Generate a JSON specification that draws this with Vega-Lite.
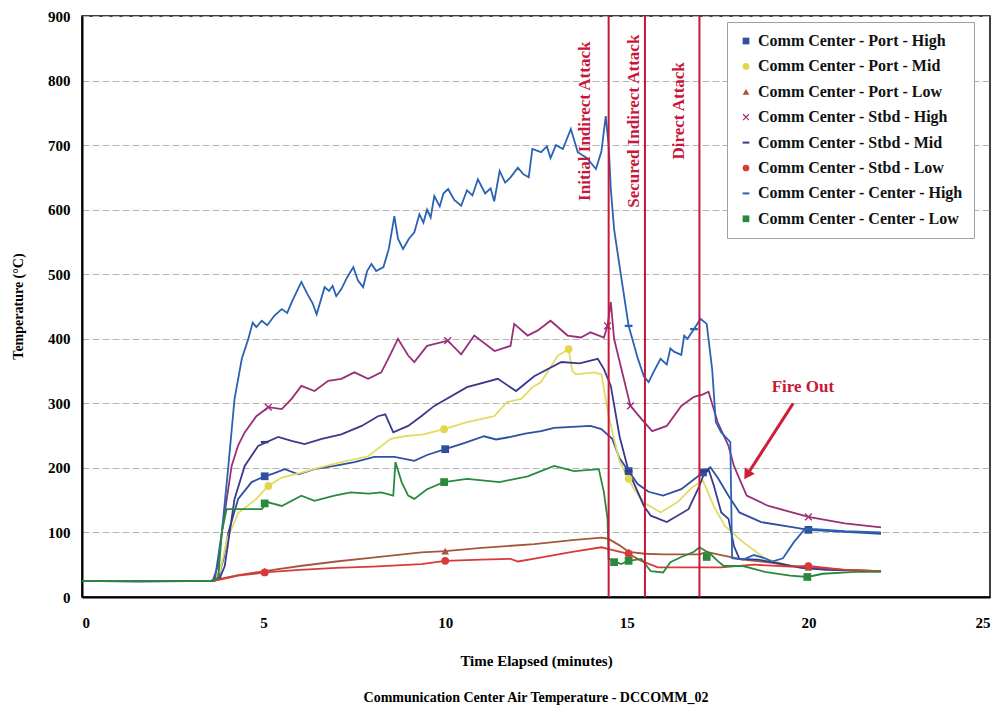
{
  "$schema": "https://vega.github.io/schema/vega-lite/v6.json",
  "width": 908,
  "height": 581,
  "autosize": {"type": "none"},
  "padding": {"left": 82, "top": 16, "right": 14, "bottom": 116},
  "background": "white",
  "config": {
    "view": {"stroke": "black", "strokeWidth": 1.5},
    "font": "Liberation Serif"
  },
  "title": {
    "text": "Communication Center Air Temperature - DCCOMM_02",
    "orient": "bottom",
    "anchor": "middle",
    "font": "Liberation Serif",
    "fontSize": 14,
    "fontWeight": "bold",
    "color": "black",
    "offset": 23
  },
  "datasets": {
    "names": [
      {"k": "PH", "name": "Comm Center - Port - High"},
      {"k": "PM", "name": "Comm Center - Port - Mid"},
      {"k": "PL", "name": "Comm Center - Port - Low"},
      {"k": "SH", "name": "Comm Center - Stbd - High"},
      {"k": "SM", "name": "Comm Center - Stbd - Mid"},
      {"k": "SL", "name": "Comm Center - Stbd - Low"},
      {"k": "CH", "name": "Comm Center - Center - High"},
      {"k": "CL", "name": "Comm Center - Center - Low"}
    ],
    "events": [{"t": 14.5}, {"t": 15.5}, {"t": 17.0}],
    "eventLabels": [
      {"t": 13.85, "v": 737, "label": "Initial Indirect Attack"},
      {"t": 15.2, "v": 737, "label": "Secured Indirect Attack"},
      {"t": 16.43, "v": 753, "label": "Direct Attack"}
    ],
    "fireOut": [{"t": 19.85, "v": 325, "label": "Fire Out"}],
    "arrow": [{"t": 19.58, "v": 300, "t2": 18.31, "v2": 189}],
    "arrowHead": [{"t": 18.31, "v": 189}],
    "temps": [
      {"k": "PH", "t": 0, "v": 25}, {"k": "PH", "t": 1.5, "v": 24}, {"k": "PH", "t": 3.6, "v": 25}, {"k": "PH", "t": 3.75, "v": 30}, {"k": "PH", "t": 3.9, "v": 60}, {"k": "PH", "t": 4.03, "v": 100}, {"k": "PH", "t": 4.3, "v": 152}, {"k": "PH", "t": 4.67, "v": 178}, {"k": "PH", "t": 5.03, "v": 187}, {"k": "PH", "t": 5.3, "v": 192}, {"k": "PH", "t": 5.58, "v": 198}, {"k": "PH", "t": 5.96, "v": 190}, {"k": "PH", "t": 6.4, "v": 198}, {"k": "PH", "t": 6.95, "v": 203}, {"k": "PH", "t": 7.5, "v": 209}, {"k": "PH", "t": 8.05, "v": 217}, {"k": "PH", "t": 8.6, "v": 217}, {"k": "PH", "t": 9.15, "v": 211}, {"k": "PH", "t": 9.5, "v": 220}, {"k": "PH", "t": 10.0, "v": 229}, {"k": "PH", "t": 10.5, "v": 238}, {"k": "PH", "t": 11.07, "v": 249}, {"k": "PH", "t": 11.4, "v": 244}, {"k": "PH", "t": 11.8, "v": 248}, {"k": "PH", "t": 12.2, "v": 253}, {"k": "PH", "t": 12.64, "v": 257}, {"k": "PH", "t": 13.0, "v": 262}, {"k": "PH", "t": 13.37, "v": 263}, {"k": "PH", "t": 14.0, "v": 265}, {"k": "PH", "t": 14.3, "v": 260}, {"k": "PH", "t": 14.6, "v": 245}, {"k": "PH", "t": 14.8, "v": 215}, {"k": "PH", "t": 15.05, "v": 195}, {"k": "PH", "t": 15.3, "v": 175}, {"k": "PH", "t": 15.6, "v": 163}, {"k": "PH", "t": 16.0, "v": 157}, {"k": "PH", "t": 16.5, "v": 167}, {"k": "PH", "t": 16.8, "v": 180}, {"k": "PH", "t": 17.1, "v": 193}, {"k": "PH", "t": 17.3, "v": 201}, {"k": "PH", "t": 17.5, "v": 185}, {"k": "PH", "t": 17.8, "v": 157}, {"k": "PH", "t": 18.1, "v": 131}, {"k": "PH", "t": 18.7, "v": 116}, {"k": "PH", "t": 19.6, "v": 108}, {"k": "PH", "t": 20.0, "v": 104}, {"k": "PH", "t": 21.0, "v": 101}, {"k": "PH", "t": 22.0, "v": 98},
      {"k": "PM", "t": 0, "v": 25}, {"k": "PM", "t": 3.6, "v": 25}, {"k": "PM", "t": 3.8, "v": 40}, {"k": "PM", "t": 4.0, "v": 90}, {"k": "PM", "t": 4.3, "v": 130}, {"k": "PM", "t": 4.8, "v": 152}, {"k": "PM", "t": 5.13, "v": 172}, {"k": "PM", "t": 5.5, "v": 185}, {"k": "PM", "t": 6.0, "v": 192}, {"k": "PM", "t": 6.5, "v": 200}, {"k": "PM", "t": 7.14, "v": 209}, {"k": "PM", "t": 7.88, "v": 218}, {"k": "PM", "t": 8.5, "v": 245}, {"k": "PM", "t": 8.87, "v": 249}, {"k": "PM", "t": 9.4, "v": 252}, {"k": "PM", "t": 9.97, "v": 260}, {"k": "PM", "t": 10.6, "v": 271}, {"k": "PM", "t": 11.35, "v": 280}, {"k": "PM", "t": 11.7, "v": 302}, {"k": "PM", "t": 12.1, "v": 307}, {"k": "PM", "t": 12.4, "v": 325}, {"k": "PM", "t": 12.64, "v": 333}, {"k": "PM", "t": 13.1, "v": 374}, {"k": "PM", "t": 13.4, "v": 384}, {"k": "PM", "t": 13.5, "v": 350}, {"k": "PM", "t": 13.6, "v": 345}, {"k": "PM", "t": 14.1, "v": 348}, {"k": "PM", "t": 14.3, "v": 345}, {"k": "PM", "t": 14.5, "v": 280}, {"k": "PM", "t": 14.8, "v": 210}, {"k": "PM", "t": 15.05, "v": 183}, {"k": "PM", "t": 15.2, "v": 167}, {"k": "PM", "t": 15.5, "v": 145}, {"k": "PM", "t": 15.93, "v": 131}, {"k": "PM", "t": 16.4, "v": 147}, {"k": "PM", "t": 16.8, "v": 170}, {"k": "PM", "t": 17.1, "v": 180}, {"k": "PM", "t": 17.4, "v": 140}, {"k": "PM", "t": 17.7, "v": 110}, {"k": "PM", "t": 18.2, "v": 85}, {"k": "PM", "t": 18.8, "v": 60}, {"k": "PM", "t": 19.5, "v": 48}, {"k": "PM", "t": 20.0, "v": 45}, {"k": "PM", "t": 21.0, "v": 42}, {"k": "PM", "t": 22.0, "v": 40},
      {"k": "PL", "t": 0, "v": 25}, {"k": "PL", "t": 3.6, "v": 25}, {"k": "PL", "t": 3.8, "v": 28}, {"k": "PL", "t": 4.3, "v": 34}, {"k": "PL", "t": 5.03, "v": 40}, {"k": "PL", "t": 6.0, "v": 48}, {"k": "PL", "t": 7.0, "v": 55}, {"k": "PL", "t": 8.0, "v": 61}, {"k": "PL", "t": 9.34, "v": 69}, {"k": "PL", "t": 10.0, "v": 71}, {"k": "PL", "t": 11.0, "v": 76}, {"k": "PL", "t": 12.45, "v": 82}, {"k": "PL", "t": 13.5, "v": 88}, {"k": "PL", "t": 14.3, "v": 92}, {"k": "PL", "t": 14.5, "v": 90}, {"k": "PL", "t": 14.8, "v": 80}, {"k": "PL", "t": 15.05, "v": 70}, {"k": "PL", "t": 15.5, "v": 67}, {"k": "PL", "t": 16.0, "v": 66}, {"k": "PL", "t": 16.5, "v": 66}, {"k": "PL", "t": 17.0, "v": 66}, {"k": "PL", "t": 17.2, "v": 70}, {"k": "PL", "t": 17.6, "v": 65}, {"k": "PL", "t": 18.2, "v": 58}, {"k": "PL", "t": 19.0, "v": 53}, {"k": "PL", "t": 19.5, "v": 48}, {"k": "PL", "t": 20.0, "v": 46}, {"k": "PL", "t": 21.0, "v": 42}, {"k": "PL", "t": 22.0, "v": 40},
      {"k": "SH", "t": 0, "v": 25}, {"k": "SH", "t": 3.6, "v": 25}, {"k": "SH", "t": 3.75, "v": 50}, {"k": "SH", "t": 3.85, "v": 100}, {"k": "SH", "t": 4.12, "v": 203}, {"k": "SH", "t": 4.3, "v": 235}, {"k": "SH", "t": 4.48, "v": 255}, {"k": "SH", "t": 4.8, "v": 280}, {"k": "SH", "t": 5.13, "v": 294}, {"k": "SH", "t": 5.5, "v": 291}, {"k": "SH", "t": 5.77, "v": 307}, {"k": "SH", "t": 6.04, "v": 327}, {"k": "SH", "t": 6.4, "v": 319}, {"k": "SH", "t": 6.78, "v": 335}, {"k": "SH", "t": 7.14, "v": 338}, {"k": "SH", "t": 7.5, "v": 348}, {"k": "SH", "t": 7.88, "v": 338}, {"k": "SH", "t": 8.24, "v": 348}, {"k": "SH", "t": 8.43, "v": 369}, {"k": "SH", "t": 8.7, "v": 400}, {"k": "SH", "t": 8.98, "v": 374}, {"k": "SH", "t": 9.15, "v": 364}, {"k": "SH", "t": 9.5, "v": 389}, {"k": "SH", "t": 10.07, "v": 397}, {"k": "SH", "t": 10.44, "v": 376}, {"k": "SH", "t": 10.8, "v": 405}, {"k": "SH", "t": 11.36, "v": 381}, {"k": "SH", "t": 11.8, "v": 389}, {"k": "SH", "t": 11.9, "v": 423}, {"k": "SH", "t": 12.27, "v": 405}, {"k": "SH", "t": 12.55, "v": 413}, {"k": "SH", "t": 12.9, "v": 428}, {"k": "SH", "t": 13.37, "v": 405}, {"k": "SH", "t": 13.74, "v": 402}, {"k": "SH", "t": 14.0, "v": 410}, {"k": "SH", "t": 14.37, "v": 402}, {"k": "SH", "t": 14.47, "v": 420}, {"k": "SH", "t": 14.56, "v": 457}, {"k": "SH", "t": 14.65, "v": 400}, {"k": "SH", "t": 14.9, "v": 342}, {"k": "SH", "t": 15.1, "v": 296}, {"k": "SH", "t": 15.4, "v": 276}, {"k": "SH", "t": 15.7, "v": 257}, {"k": "SH", "t": 16.1, "v": 265}, {"k": "SH", "t": 16.5, "v": 296}, {"k": "SH", "t": 16.85, "v": 310}, {"k": "SH", "t": 17.1, "v": 314}, {"k": "SH", "t": 17.25, "v": 318}, {"k": "SH", "t": 17.5, "v": 271}, {"k": "SH", "t": 17.8, "v": 234}, {"k": "SH", "t": 17.95, "v": 203}, {"k": "SH", "t": 18.3, "v": 157}, {"k": "SH", "t": 18.9, "v": 141}, {"k": "SH", "t": 19.5, "v": 132}, {"k": "SH", "t": 20.0, "v": 124}, {"k": "SH", "t": 21.0, "v": 114}, {"k": "SH", "t": 22.0, "v": 108},
      {"k": "SM", "t": 0, "v": 25}, {"k": "SM", "t": 3.65, "v": 25}, {"k": "SM", "t": 3.8, "v": 30}, {"k": "SM", "t": 3.93, "v": 48}, {"k": "SM", "t": 4.2, "v": 152}, {"k": "SM", "t": 4.48, "v": 203}, {"k": "SM", "t": 4.85, "v": 234}, {"k": "SM", "t": 5.4, "v": 248}, {"k": "SM", "t": 5.77, "v": 242}, {"k": "SM", "t": 6.13, "v": 237}, {"k": "SM", "t": 6.6, "v": 245}, {"k": "SM", "t": 7.14, "v": 252}, {"k": "SM", "t": 7.7, "v": 265}, {"k": "SM", "t": 8.15, "v": 280}, {"k": "SM", "t": 8.35, "v": 283}, {"k": "SM", "t": 8.57, "v": 255}, {"k": "SM", "t": 8.98, "v": 265}, {"k": "SM", "t": 9.34, "v": 280}, {"k": "SM", "t": 9.7, "v": 296}, {"k": "SM", "t": 10.6, "v": 325}, {"k": "SM", "t": 11.45, "v": 338}, {"k": "SM", "t": 11.95, "v": 319}, {"k": "SM", "t": 12.45, "v": 342}, {"k": "SM", "t": 13.2, "v": 364}, {"k": "SM", "t": 13.7, "v": 362}, {"k": "SM", "t": 14.2, "v": 369}, {"k": "SM", "t": 14.37, "v": 353}, {"k": "SM", "t": 14.56, "v": 327}, {"k": "SM", "t": 14.8, "v": 249}, {"k": "SM", "t": 15.05, "v": 195}, {"k": "SM", "t": 15.47, "v": 141}, {"k": "SM", "t": 15.66, "v": 126}, {"k": "SM", "t": 16.1, "v": 116}, {"k": "SM", "t": 16.7, "v": 136}, {"k": "SM", "t": 17.0, "v": 172}, {"k": "SM", "t": 17.15, "v": 195}, {"k": "SM", "t": 17.25, "v": 198}, {"k": "SM", "t": 17.4, "v": 172}, {"k": "SM", "t": 17.6, "v": 131}, {"k": "SM", "t": 17.8, "v": 121}, {"k": "SM", "t": 17.95, "v": 79}, {"k": "SM", "t": 18.1, "v": 59}, {"k": "SM", "t": 18.6, "v": 58}, {"k": "SM", "t": 19.2, "v": 52}, {"k": "SM", "t": 19.8, "v": 45}, {"k": "SM", "t": 20.5, "v": 42}, {"k": "SM", "t": 22.0, "v": 40},
      {"k": "SL", "t": 0, "v": 25}, {"k": "SL", "t": 3.6, "v": 25}, {"k": "SL", "t": 3.8, "v": 27}, {"k": "SL", "t": 4.3, "v": 33}, {"k": "SL", "t": 5.03, "v": 38}, {"k": "SL", "t": 6.0, "v": 42}, {"k": "SL", "t": 7.0, "v": 45}, {"k": "SL", "t": 8.0, "v": 47}, {"k": "SL", "t": 9.34, "v": 51}, {"k": "SL", "t": 10.0, "v": 56}, {"k": "SL", "t": 11.0, "v": 58}, {"k": "SL", "t": 11.8, "v": 59}, {"k": "SL", "t": 12.0, "v": 55}, {"k": "SL", "t": 12.5, "v": 60}, {"k": "SL", "t": 13.5, "v": 70}, {"k": "SL", "t": 14.3, "v": 77}, {"k": "SL", "t": 14.5, "v": 74}, {"k": "SL", "t": 15.05, "v": 67}, {"k": "SL", "t": 15.4, "v": 56}, {"k": "SL", "t": 15.85, "v": 46}, {"k": "SL", "t": 16.5, "v": 46}, {"k": "SL", "t": 17.6, "v": 46}, {"k": "SL", "t": 18.5, "v": 50}, {"k": "SL", "t": 19.5, "v": 47}, {"k": "SL", "t": 20.0, "v": 48}, {"k": "SL", "t": 21.0, "v": 42}, {"k": "SL", "t": 22.0, "v": 40},
      {"k": "CH", "t": 0, "v": 25}, {"k": "CH", "t": 3.55, "v": 25}, {"k": "CH", "t": 3.66, "v": 28}, {"k": "CH", "t": 3.85, "v": 100}, {"k": "CH", "t": 4.03, "v": 203}, {"k": "CH", "t": 4.2, "v": 307}, {"k": "CH", "t": 4.4, "v": 369}, {"k": "CH", "t": 4.58, "v": 400}, {"k": "CH", "t": 4.7, "v": 425}, {"k": "CH", "t": 4.8, "v": 418}, {"k": "CH", "t": 4.95, "v": 428}, {"k": "CH", "t": 5.1, "v": 421}, {"k": "CH", "t": 5.3, "v": 436}, {"k": "CH", "t": 5.5, "v": 446}, {"k": "CH", "t": 5.65, "v": 440}, {"k": "CH", "t": 5.8, "v": 460}, {"k": "CH", "t": 6.04, "v": 488}, {"k": "CH", "t": 6.2, "v": 470}, {"k": "CH", "t": 6.35, "v": 455}, {"k": "CH", "t": 6.46, "v": 438}, {"k": "CH", "t": 6.68, "v": 480}, {"k": "CH", "t": 6.8, "v": 474}, {"k": "CH", "t": 6.9, "v": 482}, {"k": "CH", "t": 7.0, "v": 466}, {"k": "CH", "t": 7.14, "v": 477}, {"k": "CH", "t": 7.3, "v": 495}, {"k": "CH", "t": 7.47, "v": 511}, {"k": "CH", "t": 7.6, "v": 490}, {"k": "CH", "t": 7.74, "v": 480}, {"k": "CH", "t": 7.85, "v": 505}, {"k": "CH", "t": 7.97, "v": 516}, {"k": "CH", "t": 8.1, "v": 505}, {"k": "CH", "t": 8.3, "v": 511}, {"k": "CH", "t": 8.45, "v": 540}, {"k": "CH", "t": 8.6, "v": 590}, {"k": "CH", "t": 8.7, "v": 555}, {"k": "CH", "t": 8.84, "v": 539}, {"k": "CH", "t": 9.0, "v": 555}, {"k": "CH", "t": 9.15, "v": 565}, {"k": "CH", "t": 9.29, "v": 593}, {"k": "CH", "t": 9.4, "v": 580}, {"k": "CH", "t": 9.5, "v": 600}, {"k": "CH", "t": 9.6, "v": 588}, {"k": "CH", "t": 9.7, "v": 621}, {"k": "CH", "t": 9.85, "v": 605}, {"k": "CH", "t": 9.95, "v": 625}, {"k": "CH", "t": 10.08, "v": 632}, {"k": "CH", "t": 10.25, "v": 615}, {"k": "CH", "t": 10.44, "v": 606}, {"k": "CH", "t": 10.6, "v": 630}, {"k": "CH", "t": 10.75, "v": 622}, {"k": "CH", "t": 10.9, "v": 647}, {"k": "CH", "t": 11.1, "v": 625}, {"k": "CH", "t": 11.25, "v": 633}, {"k": "CH", "t": 11.35, "v": 613}, {"k": "CH", "t": 11.5, "v": 660}, {"k": "CH", "t": 11.65, "v": 642}, {"k": "CH", "t": 11.8, "v": 650}, {"k": "CH", "t": 12.0, "v": 665}, {"k": "CH", "t": 12.15, "v": 655}, {"k": "CH", "t": 12.3, "v": 650}, {"k": "CH", "t": 12.4, "v": 694}, {"k": "CH", "t": 12.64, "v": 689}, {"k": "CH", "t": 12.8, "v": 698}, {"k": "CH", "t": 12.9, "v": 680}, {"k": "CH", "t": 13.05, "v": 700}, {"k": "CH", "t": 13.24, "v": 694}, {"k": "CH", "t": 13.46, "v": 725}, {"k": "CH", "t": 13.65, "v": 689}, {"k": "CH", "t": 13.9, "v": 680}, {"k": "CH", "t": 14.15, "v": 663}, {"k": "CH", "t": 14.3, "v": 690}, {"k": "CH", "t": 14.42, "v": 745}, {"k": "CH", "t": 14.5, "v": 700}, {"k": "CH", "t": 14.56, "v": 632}, {"k": "CH", "t": 14.65, "v": 570}, {"k": "CH", "t": 14.8, "v": 513}, {"k": "CH", "t": 15.05, "v": 420}, {"k": "CH", "t": 15.3, "v": 370}, {"k": "CH", "t": 15.47, "v": 342}, {"k": "CH", "t": 15.6, "v": 333}, {"k": "CH", "t": 15.75, "v": 350}, {"k": "CH", "t": 15.93, "v": 369}, {"k": "CH", "t": 16.1, "v": 360}, {"k": "CH", "t": 16.2, "v": 385}, {"k": "CH", "t": 16.3, "v": 380}, {"k": "CH", "t": 16.5, "v": 375}, {"k": "CH", "t": 16.58, "v": 405}, {"k": "CH", "t": 16.67, "v": 400}, {"k": "CH", "t": 16.85, "v": 415}, {"k": "CH", "t": 17.03, "v": 431}, {"k": "CH", "t": 17.2, "v": 423}, {"k": "CH", "t": 17.35, "v": 353}, {"k": "CH", "t": 17.45, "v": 271}, {"k": "CH", "t": 17.6, "v": 255}, {"k": "CH", "t": 17.85, "v": 240}, {"k": "CH", "t": 17.9, "v": 60}, {"k": "CH", "t": 18.2, "v": 58}, {"k": "CH", "t": 18.5, "v": 65}, {"k": "CH", "t": 18.8, "v": 60}, {"k": "CH", "t": 19.0, "v": 55}, {"k": "CH", "t": 19.3, "v": 60}, {"k": "CH", "t": 19.6, "v": 85}, {"k": "CH", "t": 19.9, "v": 105}, {"k": "CH", "t": 20.2, "v": 105}, {"k": "CH", "t": 21.0, "v": 102}, {"k": "CH", "t": 22.0, "v": 100},
      {"k": "CL", "t": 0, "v": 25}, {"k": "CL", "t": 3.6, "v": 25}, {"k": "CL", "t": 3.75, "v": 30}, {"k": "CL", "t": 3.85, "v": 100}, {"k": "CL", "t": 3.98, "v": 136}, {"k": "CL", "t": 4.95, "v": 136}, {"k": "CL", "t": 5.1, "v": 147}, {"k": "CL", "t": 5.5, "v": 141}, {"k": "CL", "t": 6.04, "v": 157}, {"k": "CL", "t": 6.4, "v": 149}, {"k": "CL", "t": 6.95, "v": 157}, {"k": "CL", "t": 7.4, "v": 162}, {"k": "CL", "t": 7.9, "v": 160}, {"k": "CL", "t": 8.24, "v": 162}, {"k": "CL", "t": 8.57, "v": 157}, {"k": "CL", "t": 8.63, "v": 209}, {"k": "CL", "t": 8.8, "v": 178}, {"k": "CL", "t": 8.98, "v": 157}, {"k": "CL", "t": 9.15, "v": 152}, {"k": "CL", "t": 9.5, "v": 167}, {"k": "CL", "t": 9.97, "v": 178}, {"k": "CL", "t": 10.6, "v": 183}, {"k": "CL", "t": 11.5, "v": 178}, {"k": "CL", "t": 12.27, "v": 187}, {"k": "CL", "t": 13.0, "v": 203}, {"k": "CL", "t": 13.55, "v": 195}, {"k": "CL", "t": 14.23, "v": 198}, {"k": "CL", "t": 14.37, "v": 162}, {"k": "CL", "t": 14.47, "v": 121}, {"k": "CL", "t": 14.5, "v": 59}, {"k": "CL", "t": 14.84, "v": 51}, {"k": "CL", "t": 15.05, "v": 56}, {"k": "CL", "t": 15.4, "v": 59}, {"k": "CL", "t": 15.66, "v": 40}, {"k": "CL", "t": 16.0, "v": 38}, {"k": "CL", "t": 16.2, "v": 54}, {"k": "CL", "t": 16.5, "v": 62}, {"k": "CL", "t": 16.85, "v": 70}, {"k": "CL", "t": 17.0, "v": 77}, {"k": "CL", "t": 17.3, "v": 67}, {"k": "CL", "t": 17.5, "v": 56}, {"k": "CL", "t": 17.67, "v": 48}, {"k": "CL", "t": 18.2, "v": 48}, {"k": "CL", "t": 18.8, "v": 39}, {"k": "CL", "t": 19.5, "v": 33}, {"k": "CL", "t": 19.97, "v": 31}, {"k": "CL", "t": 20.4, "v": 36}, {"k": "CL", "t": 21.3, "v": 39}, {"k": "CL", "t": 22.0, "v": 39}
    ],
    "markers": [
      {"k": "PH", "t": 5.03, "v": 187}, {"k": "PH", "t": 10.0, "v": 229}, {"k": "PH", "t": 15.05, "v": 195}, {"k": "PH", "t": 17.1, "v": 193}, {"k": "PH", "t": 20.0, "v": 104},
      {"k": "PM", "t": 5.13, "v": 172}, {"k": "PM", "t": 9.97, "v": 260}, {"k": "PM", "t": 13.4, "v": 384}, {"k": "PM", "t": 15.05, "v": 183},
      {"k": "PL", "t": 5.03, "v": 40}, {"k": "PL", "t": 10.0, "v": 71}, {"k": "PL", "t": 15.05, "v": 70}, {"k": "PL", "t": 20.0, "v": 46},
      {"k": "SH", "t": 5.13, "v": 294}, {"k": "SH", "t": 10.07, "v": 397}, {"k": "SH", "t": 14.47, "v": 420}, {"k": "SH", "t": 15.1, "v": 296}, {"k": "SH", "t": 20.0, "v": 124},
      {"k": "SM", "t": 5.03, "v": 240}, {"k": "SM", "t": 15.05, "v": 195}, {"k": "SM", "t": 17.15, "v": 195},
      {"k": "SL", "t": 5.03, "v": 38}, {"k": "SL", "t": 10.0, "v": 56}, {"k": "SL", "t": 15.05, "v": 67}, {"k": "SL", "t": 20.0, "v": 48},
      {"k": "CH", "t": 15.05, "v": 420}, {"k": "CH", "t": 16.85, "v": 415}, {"k": "CH", "t": 20.0, "v": 105},
      {"k": "CL", "t": 5.03, "v": 145}, {"k": "CL", "t": 9.97, "v": 178}, {"k": "CL", "t": 14.65, "v": 54}, {"k": "CL", "t": 15.05, "v": 56}, {"k": "CL", "t": 17.2, "v": 62}, {"k": "CL", "t": 19.97, "v": 31}
    ]
  },
  "layer": [
    {
      "data": {"name": "temps"},
      "mark": {"type": "line", "strokeWidth": 1.8},
      "encoding": {
        "x": {
          "field": "t", "type": "quantitative",
          "scale": {"domain": [0, 25], "nice": false, "zero": false},
          "axis": {
            "title": "Time Elapsed (minutes)",
            "values": [0, 5, 10, 15, 20, 25],
            "grid": false, "ticks": false,
            "domainColor": "black", "domainWidth": 2,
            "labelFont": "Liberation Serif", "labelFontSize": 15, "labelFontWeight": "bold", "labelColor": "black",
            "labelPadding": 18,
            "titleFont": "Liberation Serif", "titleFontSize": 15, "titleFontWeight": "bold", "titleColor": "black",
            "titlePadding": 23
          }
        },
        "y": {
          "field": "v", "type": "quantitative",
          "scale": {"domain": [0, 900], "nice": false},
          "axis": {
            "title": "Temperature (°C)",
            "values": [0, 100, 200, 300, 400, 500, 600, 700, 800, 900],
            "grid": true, "gridColor": "#b4b4b4", "gridDash": [7, 3], "gridWidth": 1,
            "ticks": false,
            "domainColor": "black", "domainWidth": 2,
            "labelFont": "Liberation Serif", "labelFontSize": 15, "labelFontWeight": "bold", "labelColor": "black",
            "labelPadding": 12,
            "titleFont": "Liberation Serif", "titleFontSize": 14, "titleFontWeight": "bold", "titleColor": "black",
            "titleX": -64, "titleY": 290, "titleAlign": "center", "titleBaseline": "middle", "titleAngle": -90
          }
        },
        "stroke": {
          "field": "k", "type": "nominal", "legend": null,
          "scale": {
            "domain": ["PH", "PM", "PL", "SH", "SM", "SL", "CH", "CL"],
            "range": ["#2f4f9f", "#e6da66", "#a5573c", "#9a2f78", "#3b3a8a", "#d83a3a", "#2a62b4", "#2a8a3c"]
          }
        },
        "detail": {"field": "k"},
        "order": {"field": "t", "type": "quantitative"}
      }
    },
    {
      "data": {"name": "markers"},
      "transform": [
        {"lookup": "k", "from": {"data": {"name": "names"}, "key": "k", "fields": ["name"]}}
      ],
      "mark": {"type": "point", "filled": true, "opacity": 1, "size": 60},
      "encoding": {
        "x": {"field": "t", "type": "quantitative"},
        "y": {"field": "v", "type": "quantitative"},
        "color": {
          "field": "name", "type": "nominal",
          "scale": {
            "domain": ["Comm Center - Port - High", "Comm Center - Port - Mid", "Comm Center - Port - Low", "Comm Center - Stbd - High", "Comm Center - Stbd - Mid", "Comm Center - Stbd - Low", "Comm Center - Center - High", "Comm Center - Center - Low"],
            "range": ["#2f4f9f", "#e3d64c", "#a5573c", "#9a2f78", "#3b3a8a", "#d83a3a", "#2a62b4", "#2a8a3c"]
          },
          "legend": {
            "title": null, "orient": "none", "legendX": 645, "legendY": 6,
            "labelFont": "Liberation Serif", "labelFontSize": 16, "labelFontWeight": "bold", "labelColor": "#111",
            "labelLimit": 400, "labelOffset": 4,
            "symbolSize": 45, "rowPadding": 9.4, "padding": 11,
            "strokeColor": "#a0a0a0", "fillColor": "white"
          }
        },
        "shape": {
          "field": "name", "type": "nominal",
          "scale": {
            "domain": ["Comm Center - Port - High", "Comm Center - Port - Mid", "Comm Center - Port - Low", "Comm Center - Stbd - High", "Comm Center - Stbd - Mid", "Comm Center - Stbd - Low", "Comm Center - Center - High", "Comm Center - Center - Low"],
            "range": ["square", "circle", "triangle-up", "M-1,-0.75L-0.75,-1L0,-0.25L0.75,-1L1,-0.75L0.25,0L1,0.75L0.75,1L0,0.25L-0.75,1L-1,0.75L-0.25,0Z", "M-1,-0.3L1,-0.3L1,0.3L-1,0.3Z", "circle", "M-1,-0.3L1,-0.3L1,0.3L-1,0.3Z", "square"]
          },
          "legend": {
            "title": null, "orient": "none", "legendX": 645, "legendY": 6,
            "labelFont": "Liberation Serif", "labelFontSize": 16, "labelFontWeight": "bold", "labelColor": "#111",
            "labelLimit": 400, "labelOffset": 4,
            "symbolSize": 45, "rowPadding": 9.4, "padding": 11,
            "strokeColor": "#a0a0a0", "fillColor": "white"
          }
        }
      }
    },
    {
      "data": {"name": "events"},
      "mark": {"type": "rule", "color": "#c8173a", "strokeWidth": 2},
      "encoding": {
        "x": {"field": "t", "type": "quantitative"}
      }
    },
    {
      "data": {"name": "eventLabels"},
      "mark": {"type": "text", "angle": 270, "align": "center", "baseline": "middle", "font": "Liberation Serif", "fontSize": 17, "fontWeight": "bold", "color": "#c8173a"},
      "encoding": {
        "x": {"field": "t", "type": "quantitative"},
        "y": {"field": "v", "type": "quantitative"},
        "text": {"field": "label"}
      }
    },
    {
      "data": {"name": "arrow"},
      "mark": {"type": "rule", "color": "#cc1f3a", "strokeWidth": 3},
      "encoding": {
        "x": {"field": "t", "type": "quantitative"},
        "y": {"field": "v", "type": "quantitative"},
        "x2": {"field": "t2"},
        "y2": {"field": "v2"}
      }
    },
    {
      "data": {"name": "arrowHead"},
      "mark": {"type": "point", "shape": "triangle-up", "filled": true, "color": "#cc1f3a", "opacity": 1, "size": 140, "angle": 212},
      "encoding": {
        "x": {"field": "t", "type": "quantitative"},
        "y": {"field": "v", "type": "quantitative"}
      }
    },
    {
      "data": {"name": "fireOut"},
      "mark": {"type": "text", "font": "Liberation Serif", "fontSize": 17, "fontWeight": "bold", "color": "#c8173a", "align": "center", "baseline": "middle"},
      "encoding": {
        "x": {"field": "t", "type": "quantitative"},
        "y": {"field": "v", "type": "quantitative"},
        "text": {"field": "label"}
      }
    }
  ]
}
